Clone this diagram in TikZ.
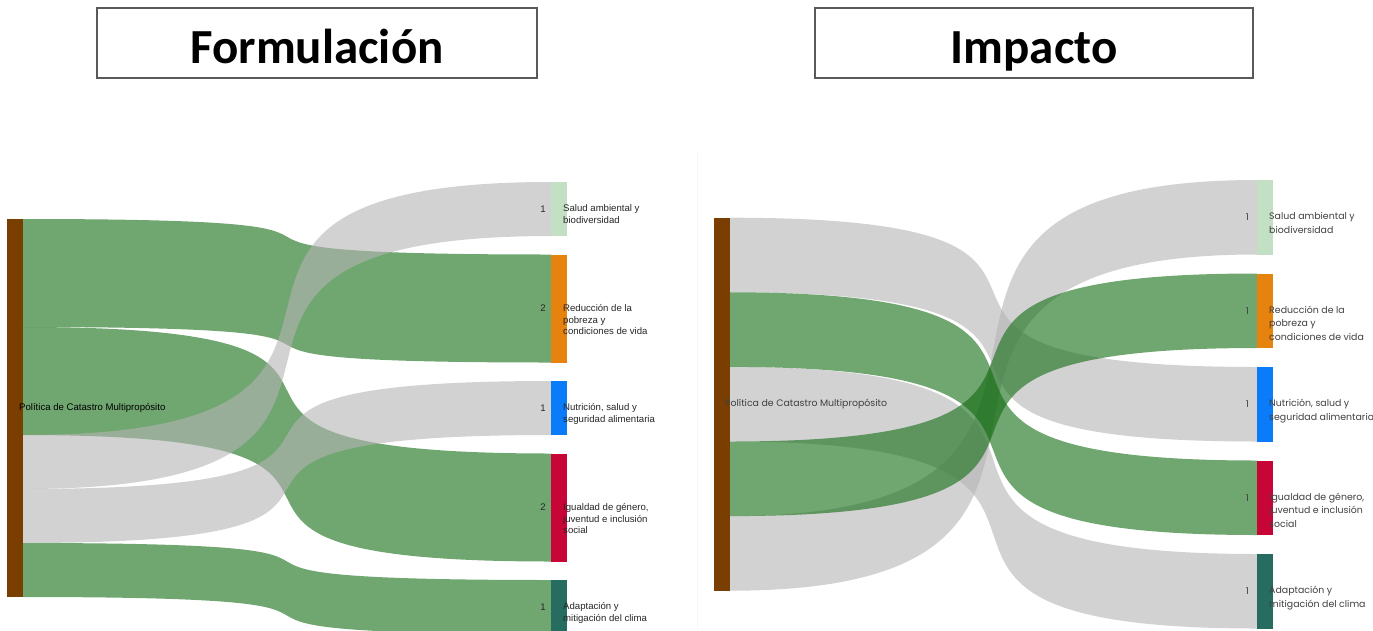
\documentclass[tikz,border=0pt]{standalone}
\usepackage{fontspec}
\setmainfont{Liberation Sans}
\newfontfamily\titlefont{Carlito}
\newfontfamily\gothicfont{Poppins}
\usetikzlibrary{positioning}
\definecolor{linkgreen}{RGB}{17,107,17}
\definecolor{linkgray}{RGB}{180,180,180}
\definecolor{catastro}{RGB}{122,62,0}
\definecolor{salud}{RGB}{196,224,196}
\definecolor{pobreza}{RGB}{230,130,14}
\definecolor{nutricion}{RGB}{10,124,250}
\definecolor{genero}{RGB}{200,5,55}
\definecolor{clima}{RGB}{38,108,96}
\newcommand{\flowband}[7]{%
\fill[#7,opacity=0.6] (#1,#2) .. controls ({#1+0.88*(#4-#1)},#2) and ({#4-0.88*(#4-#1)},#5) .. (#4,#5)
  -- (#4,#6) .. controls ({#4-0.88*(#4-#1)},#6) and ({#1+0.88*(#4-#1)},#3) .. (#1,#3) -- cycle;}
\tikzset{
  titlebox/.style={draw=black!65,line width=1.3pt,minimum width=#1,inner sep=0pt,
    text height=55pt,text depth=15pt,font=\titlefont\bfseries\fontsize{49}{50}\selectfont},
  bar/.style={minimum width=16pt,minimum height=#1,inner sep=0pt,outer sep=0pt},
  lbl/.style={anchor=north west,inner sep=0pt,align=left,text=black!85},
  num/.style={inner sep=0pt,text=black!85},
  fsmall/.style={font=\fontsize{9.6}{11.7}\selectfont},
  gsmall/.style={font=\gothicfont\fontsize{9.4}{13.4}\selectfont,text=black!75}
}
\begin{document}
\begin{tikzpicture}[x=1pt,y=-1pt]
\clip (0,0) rectangle (1373,630);
\fill[white] (0,0) rectangle (1373,630);
\draw[black!3] (697,153) -- (697,630);
\node[titlebox=440pt] (tform) at (317,43) {Formulación};
\node[titlebox=438pt] (timp) at (1034,43) {Impacto};
\flowband{23}{219}{327}{551}{254.5}{362.5}{linkgreen}
\flowband{23}{327}{435}{551}{453.5}{561.5}{linkgreen}
\flowband{23}{543}{597}{551}{580}{634}{linkgreen}
\flowband{23}{435}{489}{551}{182}{236}{linkgray}
\flowband{23}{489}{543}{551}{381}{435}{linkgray}
\node[bar=378pt,fill=catastro] (fsrc) at (15,408) {};
\node[bar=54pt,fill=salud] (fsalud) at (559,209) {};
\node[bar=108pt,fill=pobreza] (freduc) at (559,308.5) {};
\node[bar=54pt,fill=nutricion] (fnutri) at (559,408) {};
\node[bar=108pt,fill=genero] (figual) at (559,507.5) {};
\node[bar=54pt,fill=clima] (fadapt) at (559,607) {};
\node[fsmall,inner sep=0pt,anchor=west] (fsrclbl) at ([xshift=-4pt]fsrc.east) {Política de Catastro Multipropósito};
\node[num,fsmall,left=5pt of fsalud] (fsaludn) {1};
\node[num,fsmall,left=5pt of freduc] (freducn) {2};
\node[num,fsmall,left=5pt of fnutri] (fnutrin) {1};
\node[num,fsmall,left=5pt of figual] (figualn) {2};
\node[num,fsmall,left=5pt of fadapt] (fadaptn) {1};
\node[lbl,fsmall] (fsaludl) at ([xshift=-4pt,yshift=4.3pt]fsalud.east) {Salud ambiental y\\biodiversidad};
\node[lbl,fsmall] (freducl) at ([xshift=-4pt,yshift=4.3pt]freduc.east) {Reducción de la\\pobreza y\\condiciones de vida};
\node[lbl,fsmall] (fnutril) at ([xshift=-4pt,yshift=4.3pt]fnutri.east) {Nutrición, salud y\\seguridad alimentaria};
\node[lbl,fsmall] (figuall) at ([xshift=-4pt,yshift=4.3pt]figual.east) {Igualdad de género,\\juventud e inclusión\\social};
\node[lbl,fsmall] (fadaptl) at ([xshift=-4pt,yshift=4.3pt]fadapt.east) {Adaptación y\\mitigación del clima};
\flowband{730}{217.7}{292.3}{1257}{367}{441.5}{linkgray}
\flowband{730}{366.9}{441.5}{1257}{554}{628.5}{linkgray}
\flowband{730}{516.1}{590.7}{1257}{180}{254.5}{linkgray}
\flowband{730}{292.3}{366.9}{1257}{460.5}{535}{linkgreen}
\flowband{730}{441.5}{516.1}{1257}{273.5}{348}{linkgreen}
\node[bar=373pt,fill=catastro] (isrc) at (722,404.2) {};
\node[bar=74.5pt,fill=salud] (isalud) at (1265,217.25) {};
\node[bar=74.5pt,fill=pobreza] (ireduc) at (1265,310.75) {};
\node[bar=74.5pt,fill=nutricion] (inutri) at (1265,404.25) {};
\node[bar=74.5pt,fill=genero] (iigual) at (1265,497.75) {};
\node[bar=74.5pt,fill=clima] (iadapt) at (1265,591.25) {};
\node[gsmall,inner sep=0pt,anchor=west] (isrclbl) at ([xshift=-5pt]isrc.east) {Política de Catastro Multipropósito};
\node[num,gsmall,left=8pt of isalud] (isaludn) {1};
\node[num,gsmall,left=8pt of ireduc] (ireducn) {1};
\node[num,gsmall,left=8pt of inutri] (inutrin) {1};
\node[num,gsmall,left=8pt of iigual] (iigualn) {1};
\node[num,gsmall,left=8pt of iadapt] (iadaptn) {1};
\node[lbl,gsmall] (isaludl) at ([xshift=-4pt,yshift=5pt]isalud.east) {Salud ambiental y\\biodiversidad};
\node[lbl,gsmall] (ireducl) at ([xshift=-4pt,yshift=5pt]ireduc.east) {Reducción de la\\pobreza y\\condiciones de vida};
\node[lbl,gsmall] (inutril) at ([xshift=-4pt,yshift=5pt]inutri.east) {Nutrición, salud y\\seguridad alimentaria};
\node[lbl,gsmall] (iiguall) at ([xshift=-4pt,yshift=5pt]iigual.east) {Igualdad de género,\\juventud e inclusión\\social};
\node[lbl,gsmall] (iadaptl) at ([xshift=-4pt,yshift=5pt]iadapt.east) {Adaptación y\\mitigación del clima};
\end{tikzpicture}
\end{document}
